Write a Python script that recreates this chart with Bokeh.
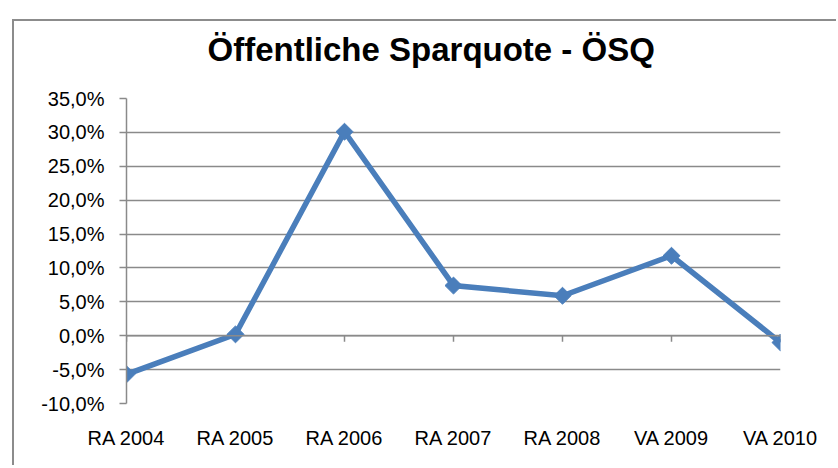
from bokeh.plotting import figure
from bokeh.models import FixedTicker, Span, Title, Range1d
from bokeh.embed import file_html
from bokeh.resources import INLINE

categories = ["RA 2004", "RA 2005", "RA 2006", "RA 2007", "RA 2008", "VA 2009", "VA 2010"]
values = [-5.7, 0.2, 30.1, 7.4, 5.9, 11.8, -1.0]
y_ticks = [-10, -5, 0, 5, 10, 15, 20, 25, 30, 35]
y_labels = ["-10,0%", "-5,0%", "0,0%", "5,0%", "10,0%", "15,0%", "20,0%", "25,0%", "30,0%", "35,0%"]
title_text = "Öffentliche Sparquote - ÖSQ"

x = list(range(len(categories)))
GRAY = "#8a8a8a"
BLUE = "#4a7ebb"
FONT = "Liberation Sans"

p = figure(width=824, height=446, output_backend="svg", toolbar_location=None, title=None,
           x_range=Range1d(0, len(categories) - 1), y_range=Range1d(y_ticks[0], y_ticks[-1]),
           min_border_left=112, min_border_right=58, min_border_top=77, min_border_bottom=64)
p.outline_line_color = None
p.background_fill_color = "white"
p.border_fill_color = "white"
p.styles = {"margin-left": "12px", "margin-top": "19px",
            "border-left": "2px solid #8c8c8c", "border-top": "2px solid #8c8c8c",
            "border-right": "none", "border-bottom": "none"}

# spacer between frame and title, then the title itself
p.add_layout(Title(text=" ", text_font_size="1px", standoff=28), "above")
p.add_layout(Title(text=title_text, text_font=FONT, text_font_size="33px", text_font_style="bold",
                   text_color="black", align="left", offset=81, standoff=0), "above")

# axes
p.xaxis.ticker = FixedTicker(ticks=x)
p.xaxis.major_label_overrides = {i: c for i, c in zip(x, categories)}
p.xaxis.axis_line_color = None
p.xaxis.major_tick_line_color = None
p.xaxis.minor_tick_line_color = None
p.xaxis.major_label_standoff = 17
p.xaxis.major_label_text_font = FONT
p.xaxis.major_label_text_font_size = "20px"
p.xaxis.major_label_text_color = "black"

p.yaxis.ticker = FixedTicker(ticks=y_ticks)
p.yaxis.major_label_overrides = {v: l for v, l in zip(y_ticks, y_labels)}
p.yaxis.axis_line_color = GRAY
p.yaxis.axis_line_width = 1.5
p.yaxis.major_tick_line_color = GRAY
p.yaxis.major_tick_line_width = 1.5
p.yaxis.major_tick_out = 7
p.yaxis.major_tick_in = 0
p.yaxis.minor_tick_line_color = None
p.yaxis.major_label_standoff = 15
p.yaxis.major_label_text_font = FONT
p.yaxis.major_label_text_font_size = "20px"
p.yaxis.major_label_text_color = "black"

p.xgrid.grid_line_color = None
p.ygrid.ticker = FixedTicker(ticks=y_ticks)
p.ygrid.grid_line_color = GRAY
p.ygrid.grid_line_width = 1.5

# category axis line at zero with tick marks
p.add_layout(Span(location=0, dimension="width", line_color=GRAY, line_width=1.5))
p.segment(x0=x, y0=[0] * len(x), x1=x, y1=[-0.9] * len(x), line_color=GRAY, line_width=1.5)

p.line(x, values, line_color=BLUE, line_width=5.5, line_join="miter")
p.scatter(x, values, marker="square", angle=0.785398, size=12, fill_color=BLUE, line_color=BLUE)

open("out.html", "w").write(file_html(p, INLINE))
